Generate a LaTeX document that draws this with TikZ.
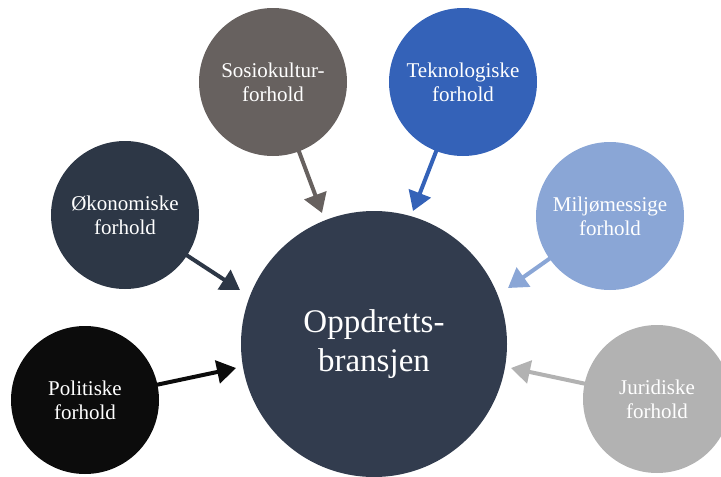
\documentclass[tikz,border=0pt]{standalone}
\usepackage{fontspec}
\setmainfont{Liberation Serif}
\usetikzlibrary{arrows.meta}
\definecolor{cSosio}{HTML}{67615F}
\definecolor{cOkon}{HTML}{2D3746}
\definecolor{cMain}{HTML}{323C4E}
\definecolor{cPol}{HTML}{0C0C0C}
\definecolor{cTek}{HTML}{3462B8}
\definecolor{cMil}{HTML}{8AA6D6}
\definecolor{cJur}{HTML}{B2B2B2}
\tikzset{
  sat/.style={circle, minimum size=148pt, inner sep=0pt, text=white, align=center,
    font=\fontsize{21}{24}\selectfont},
  hub/.style={circle, minimum size=266pt, inner sep=0pt, text=white, align=center,
    fill=cMain, font=\fontsize{33}{39}\selectfont},
  arr/.style={line width=4pt, -{Triangle[width=23pt,length=19pt]}, shorten <=-1pt}
}
\begin{document}
\begin{tikzpicture}[x=1pt,y=-1pt]
\useasboundingbox (0,0) rectangle (721,477);
\node[hub] (main) at (374,344) {Oppdretts-\\bransjen};
\node[sat, fill=cSosio] (sosio) at (273,82) {Sosiokultur-\\forhold};
\node[sat, fill=cOkon] (okon) at (125,215) {Økonomiske\\forhold};
\node[sat, fill=cPol] (pol) at (85,400) {Politiske\\forhold};
\node[sat, fill=cTek] (tek) at (463,82) {Teknologiske\\forhold};
\node[sat, fill=cMil] (mil) at (610,216) {Miljømessige\\forhold};
\node[sat, fill=cJur] (jur) at (657,399) {Juridiske\\forhold};
\coordinate (tSosio) at (322,213);
\coordinate (tOkon) at (240,290);
\coordinate (tPol) at (236,368);
\coordinate (tTek) at (413,211);
\coordinate (tMil) at (508,288);
\coordinate (tJur) at (511,368);
\draw[arr, cSosio] (sosio) -- (tSosio);
\draw[arr, cOkon] (okon) -- (tOkon);
\draw[arr, cPol] (pol) -- (tPol);
\draw[arr, cTek] (tek) -- (tTek);
\draw[arr, cMil] (mil) -- (tMil);
\draw[arr, cJur] (jur) -- (tJur);
\end{tikzpicture}
\end{document}
